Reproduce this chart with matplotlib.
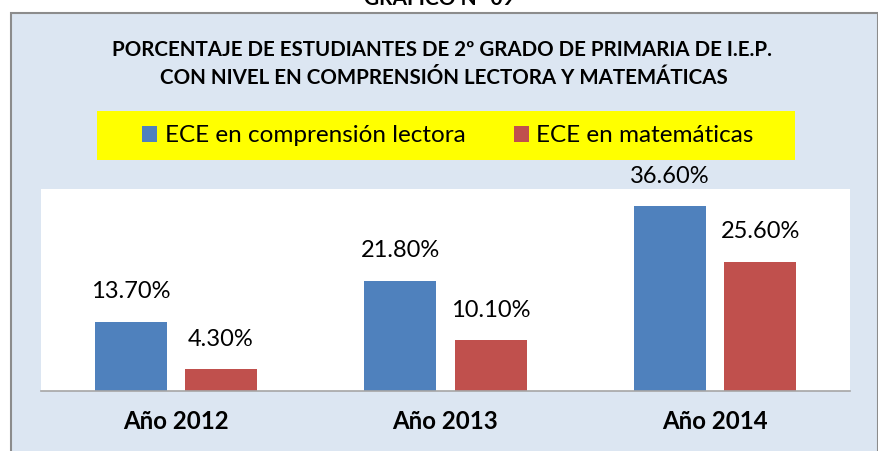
import matplotlib
matplotlib.use("Agg")
import matplotlib.pyplot as plt
from matplotlib.patches import Rectangle
import numpy as np

categories = ["Año 2012", "Año 2013", "Año 2014"]
series_names = ["ECE en comprensión lectora", "ECE en matemáticas"]
lectora = [13.7, 21.8, 36.6]
matematicas = [4.3, 10.1, 25.6]
labels_lectora = ["13.70%", "21.80%", "36.60%"]
labels_mate = ["4.30%", "10.10%", "25.60%"]

W, H = 879, 451
plt.rcParams['font.family'] = ['Lato', 'DejaVu Sans']
fig = plt.figure(figsize=(W / 100, H / 100), dpi=100)
fig.patch.set_facecolor("white")

def fx(x):
    return x / W

def fy(y):
    return 1 - y / H

# outer chart frame
frame = Rectangle((fx(11), fy(H + 5)), fx(879 - 11 - 1), (H + 5 - 13) / H,
                  transform=fig.transFigure, facecolor="#DCE6F2",
                  edgecolor="#8C8C8C", linewidth=1.5, zorder=-2)
fig.patches.append(frame)

# yellow legend box
ybox = Rectangle((fx(97), fy(160)), (795 - 97) / W, (160 - 111) / H,
                 transform=fig.transFigure, facecolor="#FFFF00",
                 edgecolor="none", zorder=-1)
fig.patches.append(ybox)

# clipped heading at the top
fig.text(0.5, fy(5), "GRÁFICO N° 09", ha="center", va="baseline",
         fontsize=15, fontweight="bold", color="black")

# title
fig.text(fx(442), fy(50), "PORCENTAJE DE ESTUDIANTES DE 2º GRADO DE PRIMARIA DE I.E.P.",
         ha="center", va="center", fontsize=14.8, fontweight="bold")
fig.text(fx(444), fy(78), "CON NIVEL EN COMPRENSIÓN LECTORA Y MATEMÁTICAS",
         ha="center", va="center", fontsize=14.8, fontweight="bold")

# axes
ax = fig.add_axes([fx(41), fy(391), (850 - 41) / W, (391 - 189) / H])
ax.set_zorder(1)
ax.set_facecolor("white")
x = np.arange(len(categories))
bw = 0.267
off = 0.167
b1 = ax.bar(x - off, lectora, bw, color="#4F81BD", label=series_names[0], zorder=2)
b2 = ax.bar(x + off, matematicas, bw, color="#C0504D", label=series_names[1], zorder=2)
ax.set_xlim(-0.5, 2.5)
ax.set_ylim(0, 40)
ax.set_yticks([])
ax.set_xticks(x)
ax.set_xticklabels(categories, fontsize=17.3, fontweight="bold")
ax.tick_params(axis="x", length=0, pad=14)
for s in ["top", "left", "right"]:
    ax.spines[s].set_visible(False)
ax.spines["bottom"].set_color("#A6A6A6")
ax.spines["bottom"].set_linewidth(1.2)

for xi, v, t in zip(x - off, lectora, labels_lectora):
    ax.annotate(t, (xi, v), xytext=(0, 14), textcoords="offset points",
                ha="center", va="bottom", fontsize=17, clip_on=False)
for xi, v, t in zip(x + off, matematicas, labels_mate):
    ax.annotate(t, (xi, v), xytext=(0, 14), textcoords="offset points",
                ha="center", va="bottom", fontsize=17, clip_on=False)

# legend
leg = fig.legend(handles=[b1, b2], labels=series_names, loc="center",
                 bbox_to_anchor=(fx(448), fy(136)),
                 ncol=2, frameon=False, fontsize=17.5, handlelength=0.62,
                 handleheight=0.62, columnspacing=2.0, handletextpad=0.3,
                 borderaxespad=0, borderpad=0)

fig.savefig("out.png", dpi=100, facecolor="white")
